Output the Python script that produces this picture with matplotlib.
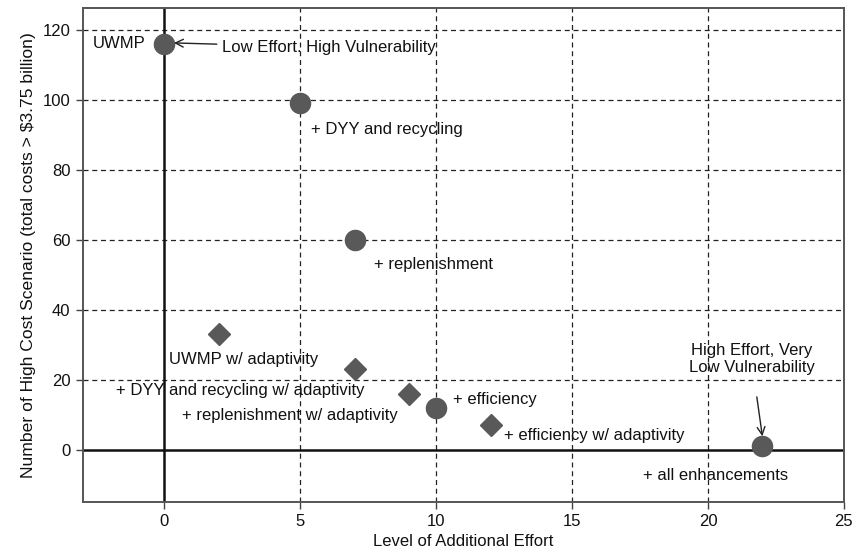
import matplotlib
matplotlib.use("Agg")
import matplotlib.pyplot as plt

plt.rcParams['font.family'] = ['Liberation Sans', 'DejaVu Sans']

# Strategies without adaptivity (circles)
base_effort = [0, 5, 7, 10, 22]
base_costs = [116, 99, 60, 12, 1]
base_labels = ["UWMP", "+ DYY and recycling", "+ replenishment", "+ efficiency", "+ all enhancements"]

# Strategies with adaptivity (diamonds)
adapt_effort = [2, 7, 9, 12]
adapt_costs = [33, 23, 16, 7]
adapt_labels = ["UWMP w/ adaptivity", "+ DYY and recycling w/ adaptivity",
                "+ replenishment w/ adaptivity", "+ efficiency w/ adaptivity"]

x_ticks = [0, 5, 10, 15, 20, 25]
y_ticks = [0, 20, 40, 60, 80, 100, 120]

# label anchor positions (data coords)
base_label_pos = [(-2.65, 116), (5.4, 91.4), (7.7, 52.9), (10.6, 14.3), (17.6, -7.4)]
adapt_label_pos = [(0.15, 25.7), (-1.8, 16.9), (0.65, 9.7), (12.5, 4.0)]

fig = plt.figure(figsize=(8.55, 5.52), dpi=100)
ax = fig.add_axes([0.097, 0.0906, 0.890, 0.895])

ax.set_xlim(-3, 25)
ax.set_ylim(-15, 126.3)

grid_kw = dict(color='#222222', linestyle=(0, (4, 3)), linewidth=0.9, zorder=1)
for xv in x_ticks[1:-1]:
    ax.axvline(xv, **grid_kw)
for yv in y_ticks[1:]:
    ax.axhline(yv, **grid_kw)
ax.axvline(0, color='#111111', linewidth=1.8, zorder=2)
ax.axhline(0, color='#111111', linewidth=1.8, zorder=2)

marker_color = '#595959'
ax.plot(base_effort, base_costs, linestyle='none', marker='o', markersize=14.5,
        color=marker_color, zorder=3)
ax.plot(adapt_effort, adapt_costs, linestyle='none', marker='D', markersize=11.5,
        color=marker_color, zorder=3)

fs = 12
for lbl, (lx, ly) in zip(base_labels, base_label_pos):
    ax.text(lx, ly, lbl, fontsize=fs, ha='left', va='center', color='#111111', zorder=4)
for lbl, (lx, ly) in zip(adapt_labels, adapt_label_pos):
    ax.text(lx, ly, lbl, fontsize=fs, ha='left', va='center', color='#111111', zorder=4)

arrow_kw = dict(arrowstyle='->', color='#222222', lw=1.0, mutation_scale=14)
ax.annotate("Low Effort. High Vulnerability", xy=(0.35, 116.3), xytext=(2.13, 115),
            fontsize=fs, ha='left', va='center', color='#111111',
            arrowprops=dict(**arrow_kw, shrinkA=2, shrinkB=0), zorder=4)
ax.annotate("High Effort, Very\nLow Vulnerability", xy=(22.0, 3.8), xytext=(21.6, 25.9),
            fontsize=fs, ha='center', va='center', color='#111111', linespacing=1.15,
            arrowprops=dict(**arrow_kw, shrinkA=14, shrinkB=0), zorder=4)

ax.set_xticks(x_ticks)
ax.set_yticks(y_ticks)
ax.tick_params(axis='both', direction='out', length=5, width=1, color='#444444',
               labelsize=12, labelcolor='#111111', pad=4)
ax.tick_params(top=False, right=False)
for s in ax.spines.values():
    s.set_color('#555555')
    s.set_linewidth(1.4)

ax.set_xlabel("Level of Additional Effort", fontsize=12, color='#111111', labelpad=3)
ax.set_ylabel("Number of High Cost Scenario (total costs > $3.75 billion)", fontsize=12.6,
              color='#111111', labelpad=5)

fig.savefig("out.png", dpi=100)
